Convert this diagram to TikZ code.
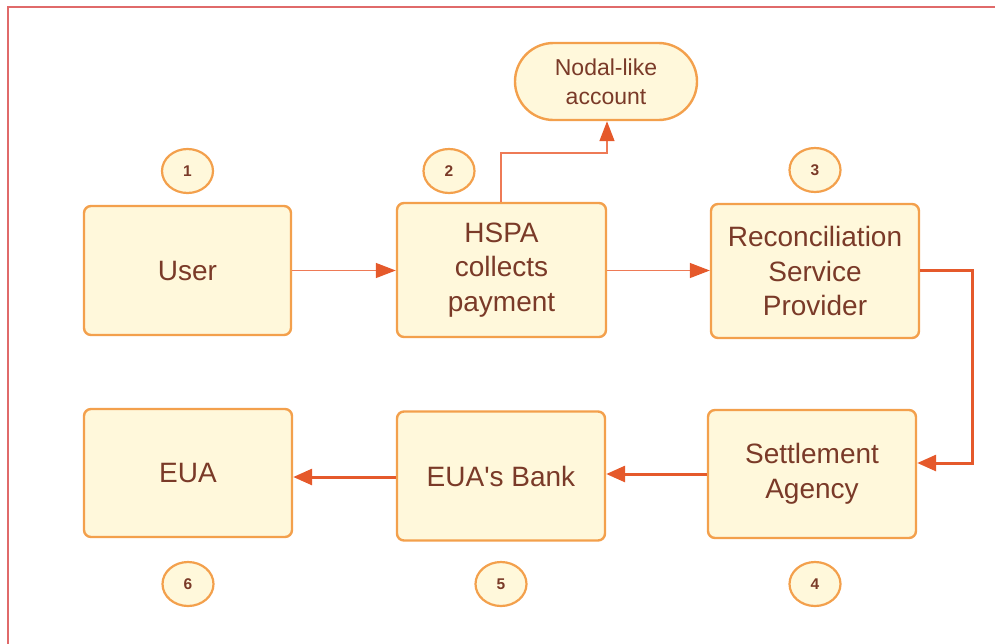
\documentclass[tikz,border=0pt]{standalone}
\usepackage{fontspec}
\setmainfont{Liberation Sans}[Ligatures=TeXOff]
\usetikzlibrary{arrows.meta,shapes.misc,shapes.geometric}
\definecolor{boxfill}{HTML}{FFF8DB}
\definecolor{boxline}{HTML}{F3A04C}
\definecolor{txt}{HTML}{7A3A28}
\definecolor{arr}{HTML}{E5592B}
\definecolor{arrthin}{HTML}{EE7A56}
\definecolor{frame}{HTML}{E06A6A}
\tikzset{
  x=1pt,y=-1pt,
  stepbox/.style={draw=boxline,fill=boxfill,line width=2.4pt,rounded corners=7pt,
    text=txt,align=center,inner sep=0pt,font=\fontsize{28}{34.5}\selectfont},
  numcirc/.style={ellipse,draw=boxline,fill=boxfill,line width=2.2pt,text=txt,
    inner sep=0pt,minimum width=51pt,minimum height=44pt,font=\fontsize{15.5}{17}\selectfont\bfseries},
  termbox/.style={rounded rectangle,draw=boxline,fill=boxfill,line width=2.4pt,text=txt,
    align=center,inner sep=0pt,minimum width=182pt,minimum height=77pt,font=\fontsize{23}{29}\selectfont},
  thinarrow/.style={draw=arrthin,line width=1.4pt,-{Triangle[length=20pt,width=15pt,color=arr]}},
  thickarrow/.style={draw=arr,line width=3pt,-{Triangle[length=19pt,width=16pt,color=arr]}},
}
\begin{document}
\begin{tikzpicture}
\useasboundingbox (0,0) rectangle (995,643);
\draw[frame,line width=2pt] (8,700) -- (8,7) -- (1010,7);
% boxes
\node[stepbox,minimum width=207pt,minimum height=129pt] (user) at (187.5,270.5) {User};
\node[stepbox,minimum width=209pt,minimum height=134pt] (hspa) at (501.5,270) {HSPA\\collects\\payment};
\node[stepbox,minimum width=208pt,minimum height=134pt] (rsp) at (815,271) {Reconciliation\\Service\\Provider};
\node[stepbox,minimum width=208pt,minimum height=128pt] (sa) at (812,474) {Settlement\\Agency};
\node[stepbox,minimum width=208pt,minimum height=129pt] (bank) at (501,476) {EUA's Bank};
\node[stepbox,minimum width=208pt,minimum height=128pt] (eua) at (188,473) {EUA};
\node[termbox] (nodal) at (606,81.5) {Nodal-like\\account};
% numbers
\node[numcirc] (n1) at (187.5,171) {1};
\node[numcirc] (n2) at (449,171) {2};
\node[numcirc] (n3) at (815,170) {3};
\node[numcirc] (n4) at (815,584) {4};
\node[numcirc] (n5) at (501,584) {5};
\node[numcirc] (n6) at (188,584) {6};
% connectors
\draw[thinarrow] (user.east |- 0,270.5) -- (hspa.west |- 0,270.5);
\draw[thinarrow] (hspa.east |- 0,270.5) -- (rsp.west |- 0,270.5);
\draw[thinarrow] (hspa.north -| 501,0) |- (607,153) -- (nodal.south -| 607,0);
\draw[thickarrow] (rsp.east |- 0,270) -| (972,463) -- (sa.east |- 0,463);
\draw[thickarrow] (sa.west |- 0,474) -- (bank.east |- 0,474);
\draw[thickarrow] (bank.west |- 0,477) -- (eua.east |- 0,477);
\end{tikzpicture}
\end{document}
